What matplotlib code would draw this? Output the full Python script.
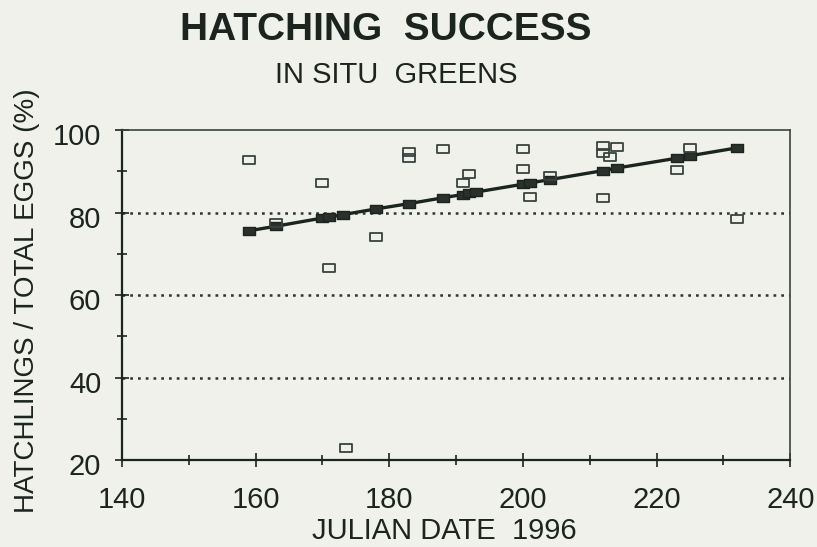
import matplotlib
matplotlib.use("Agg")
import matplotlib.pyplot as plt
from matplotlib.path import Path
from matplotlib.ticker import MultipleLocator
from matplotlib.transforms import ScaledTranslation

# observed data (open squares)
obs_x = [159, 163, 170, 171, 173.5, 178, 183, 183, 188, 191, 192, 200, 200, 201,
         204, 212, 212, 214, 213, 212, 223, 225, 232]
obs_y = [92.7, 77.5, 87.1, 66.5, 23.0, 74.0, 94.7, 93.2, 95.4, 87.1, 89.3, 95.4, 90.5, 83.7,
         89.0, 96.1, 94.4, 95.9, 93.4, 83.5, 90.3, 95.6, 78.4]

# fitted values along regression line (filled squares)
fit_x = [159, 163, 170, 171, 173, 178, 183, 188, 191, 192, 193, 200, 201, 204,
         212, 214, 223, 225, 232]
fit_y = [75.6, 76.7, 78.7, 78.9, 79.5, 80.9, 82.2, 83.6, 84.4, 84.7, 85.0, 86.9, 87.2, 88.0,
         90.2, 90.8, 93.2, 93.8, 95.7]

x_ticks = [140, 160, 180, 200, 220, 240]
y_ticks = [20, 40, 60, 80, 100]
grid_levels = [40, 60, 80]

title = "HATCHING  SUCCESS"
subtitle = "IN SITU  GREENS"
xlabel = "JULIAN DATE  1996"
ylabel = "HATCHLINGS / TOTAL EGGS (%)"

bg = "#f1f1ec"
ink = "#1c2420"
font = "Liberation Sans"

rect = Path([(-1.45, -1), (1.45, -1), (1.45, 1), (-1.45, 1), (-1.45, -1)],
            [Path.MOVETO, Path.LINETO, Path.LINETO, Path.LINETO, Path.CLOSEPOLY])

fig = plt.figure(figsize=(8.17, 5.47), dpi=100, facecolor=bg)
ax = fig.add_axes([0.1493, 0.159, 0.818, 0.603], facecolor=bg)

for g in grid_levels:
    ax.axhline(g, color="#2e3434", lw=1.8, ls=(0, (1.1, 2.0)), zorder=1)

ax.plot(fit_x, fit_y, color=ink, lw=2.4, marker=rect, ms=9, mfc="#2a302c",
        mec=ink, mew=1.0, zorder=3)
ax.plot(obs_x, obs_y, ls="none", marker=rect, ms=9, mfc="none", mec="#3a4240",
        mew=1.3, zorder=4)

ax.set_xlim(140, 240)
ax.set_ylim(20, 100)
ax.set_xticks(x_ticks)
ax.set_yticks(y_ticks)
ax.xaxis.set_minor_locator(MultipleLocator(10))
ax.yaxis.set_minor_locator(MultipleLocator(10))
ax.tick_params(which="both", direction="inout", color=ink, width=1.2)
ax.tick_params(which="major", length=10)
ax.tick_params(which="minor", length=7)
ax.tick_params(axis="x", which="major", pad=14)
ax.tick_params(axis="y", which="major", pad=10)
shift = ScaledTranslation(0, -4 / 100, fig.dpi_scale_trans)
for lab in ax.get_xticklabels() + ax.get_yticklabels():
    lab.set_fontfamily(font)
    lab.set_fontsize(21)
    lab.set_color(ink)
for lab in ax.get_yticklabels():
    lab.set_transform(lab.get_transform() + shift)
for s in ["left", "bottom"]:
    ax.spines[s].set_linewidth(1.6)
    ax.spines[s].set_color(ink)
for s in ["top", "right"]:
    ax.spines[s].set_linewidth(1.2)
    ax.spines[s].set_color("#3a4440")

ax.set_xlabel(xlabel, fontfamily=font, fontsize=21, color=ink)
ax.xaxis.label.set_va("center")
ax.xaxis.set_label_coords(0.482, -0.215)
ax.set_ylabel(ylabel, fontfamily=font, fontsize=20, color=ink)
ax.yaxis.label.set_va("center")
ax.yaxis.set_label_coords(-0.142, 0.482)

fig.text(0.472, 0.945, title, ha="center", va="center", fontfamily=font,
         fontsize=28, fontweight="bold", color=ink)
fig.text(0.485, 0.863, subtitle, ha="center", va="center", fontfamily=font,
         fontsize=21, color=ink)

fig.savefig("out.png", dpi=100, facecolor=bg)
